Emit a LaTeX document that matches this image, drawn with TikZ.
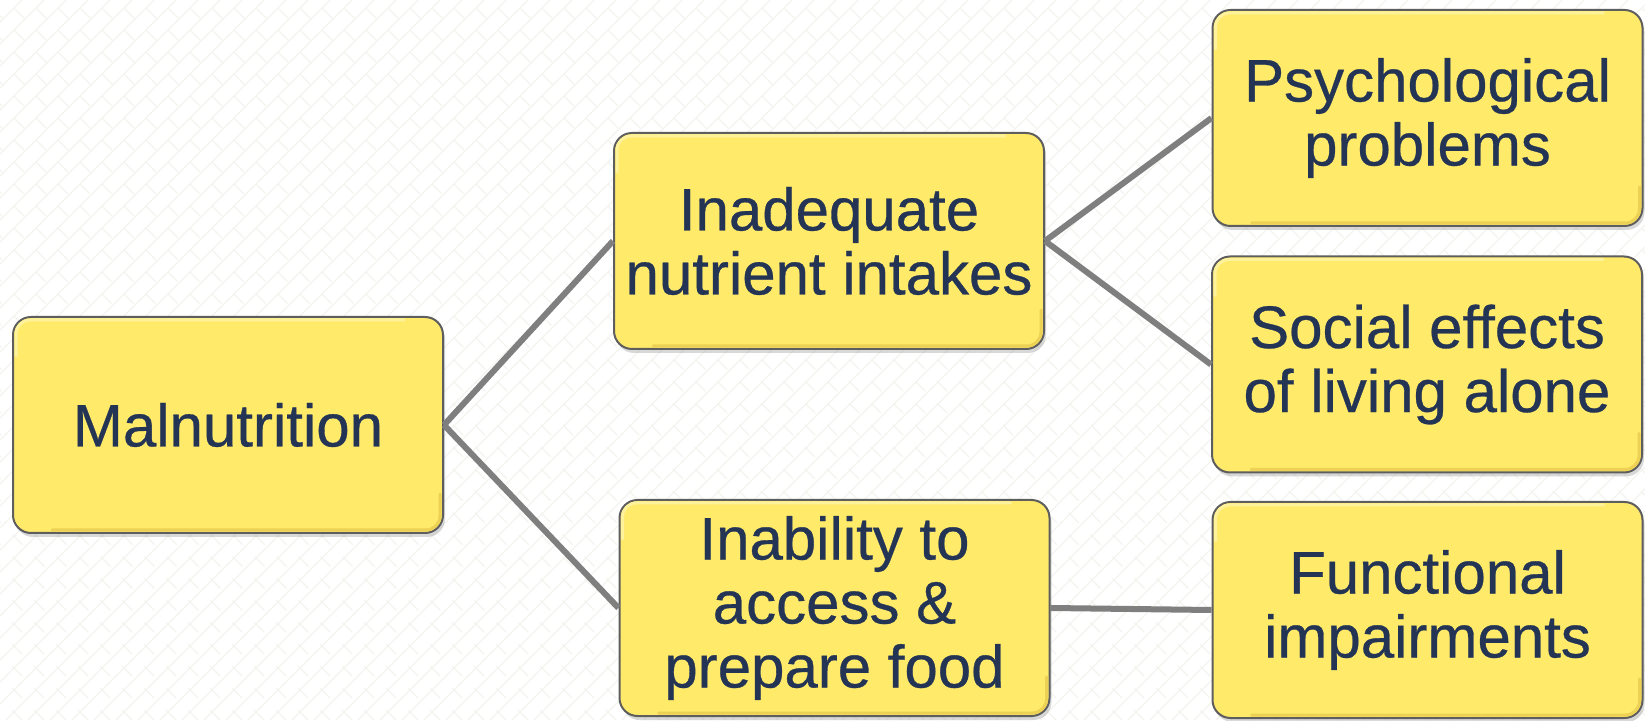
\documentclass[tikz,border=0pt]{standalone}
\usepackage{fontspec}
\setmainfont{Liberation Sans}
\newfontfamily\boxfont[FakeBold=0.5]{Liberation Sans}
\usetikzlibrary{shadows}
\definecolor{boxfill}{HTML}{FFEA6A}
\definecolor{boxline}{HTML}{5E5E5E}
\definecolor{bevdark}{HTML}{EDD154}
\definecolor{bevlight}{HTML}{FFF29C}
\definecolor{txt}{HTML}{243455}
\definecolor{conn}{HTML}{7F7F7F}
\definecolor{pat}{HTML}{F4F4EF}
\begin{document}
\begin{tikzpicture}[x=1pt,y=1pt,
  box/.style={draw=boxline, line width=2pt, fill=boxfill, rounded corners=18pt,
    minimum width=430pt, minimum height=216pt, align=center, text=txt,
    font=\boxfont\fontsize{60}{64}\selectfont, inner sep=0pt,
    drop shadow={opacity=0.3, shadow xshift=2pt, shadow yshift=-4pt}},
  link/.style={draw=conn, line width=6pt}]
\fill[white] (0,0) rectangle (1645,720);
\begin{scope}
  \clip (0,0) rectangle (1645,720);
  \foreach \k in {-720,-698,...,1645} {
    \draw[pat, line width=1.3pt] (\k,0) -- ++(720,720);
    \draw[pat, line width=1.3pt, dash pattern=on 14pt off 17pt] (\k+720,0) -- ++(-720,720);
  }
\end{scope}
\useasboundingbox (0,0) rectangle (1645,720);

\node[box] (mal)  at (228,295)    {Malnutrition};
\node[box] (inad) at (829,479)    {Inadequate\\nutrient intakes};
\node[box] (inab) at (834.5,112)  {Inability to\\access \&\\prepare food};
\node[box] (psy)  at (1427.5,602) {Psychological\\problems};
\node[box] (soc)  at (1427,355.5) {Social effects\\of living alone};
\node[box] (fun)  at (1427.5,110) {Functional\\impairments};

\foreach \n in {mal,inad,inab,psy,soc,fun} {
  \draw[bevdark, line width=3pt, line cap=round, rounded corners=14pt]
    ([xshift=-4pt,yshift=40pt]\n.south east) -- ([xshift=-4pt,yshift=4pt]\n.south east) -- ([xshift=40pt,yshift=4pt]\n.south west);
  \draw[bevlight, line width=3pt, line cap=round, rounded corners=14pt]
    ([xshift=4pt,yshift=-40pt]\n.north west) -- ([xshift=4pt,yshift=-4pt]\n.north west) -- ([xshift=-40pt,yshift=-4pt]\n.north east);
}

\draw[link] (mal.east) -- (inad.west);
\draw[link] (mal.east) -- (inab.west);
\draw[link] (inad.east) -- (psy.west);
\draw[link] (inad.east) -- (soc.west);
\draw[link] (inab.east) -- (fun.west);
\end{tikzpicture}
\end{document}
